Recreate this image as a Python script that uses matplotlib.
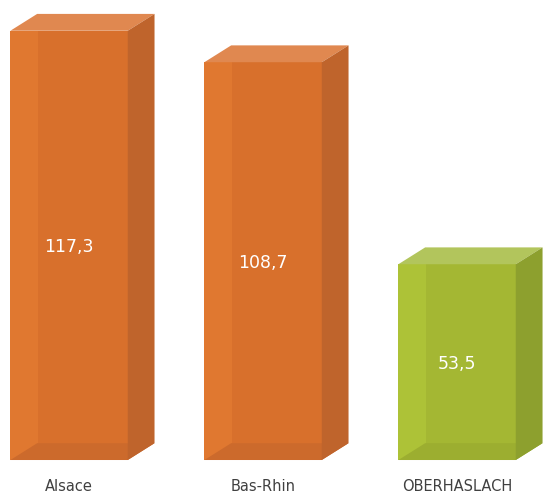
import matplotlib.pyplot as plt
from matplotlib.patches import Polygon, Rectangle

categories = ["Alsace", "Bas-Rhin", "OBERHASLACH"]
values = [117.3, 108.7, 53.5]
value_labels = ["117,3", "108,7", "53,5"]

# colours per bar: front, left strip, top, side, bottom
orange = ("#D8702C", "#E07830", "#E08850", "#BF642C", "#CC6A2C")
green = ("#A4B733", "#ADC237", "#B2C55C", "#8DA02E", "#9CAE30")
palettes = [orange, orange, green]


def main():
    f = plt.figure(figsize=(5.44, 4.95), dpi=100)
    axis = f.add_axes([0, 0, 1, 1])
    axis.set_xlim(-0.356, 2.448)
    axis.set_ylim(-9.56, 125.7)
    axis.axis("off")

    width = 0.605
    dx = 0.138
    dy = 4.6
    strip = 0.14

    for i, (val, pal) in enumerate(zip(values, palettes)):
        front, left, top, side, bottom = pal
        x0 = i - width / 2
        x1 = i + width / 2
        axis.bar(i, val, width=width, color=front, edgecolor="none")
        axis.add_patch(Rectangle((x0, 0), strip, val, color=left, lw=0))
        # bottom shading
        axis.add_patch(Polygon([(x0, 0), (x1, 0), (x1 + dx, dy), (x0 + dx, dy)],
                               closed=True, color=bottom, lw=0))
        # top face
        axis.add_patch(Polygon([(x0, val), (x1, val), (x1 + dx, val + dy), (x0 + dx, val + dy)],
                               closed=True, color=top, lw=0))
        # side face
        axis.add_patch(Polygon([(x1, 0), (x1 + dx, dy), (x1 + dx, val + dy), (x1, val)],
                               closed=True, color=side, lw=0))
        axis.text(i, val / 2 - 0.5, value_labels[i], color="white", fontsize=12.5,
                  ha="center", va="center")
        axis.text(i, -7.3, categories[i], color="#404040", fontsize=10.5,
                  ha="center", va="center")

    f.savefig("out.png", dpi=100)


if __name__ == "__main__":
    main()
